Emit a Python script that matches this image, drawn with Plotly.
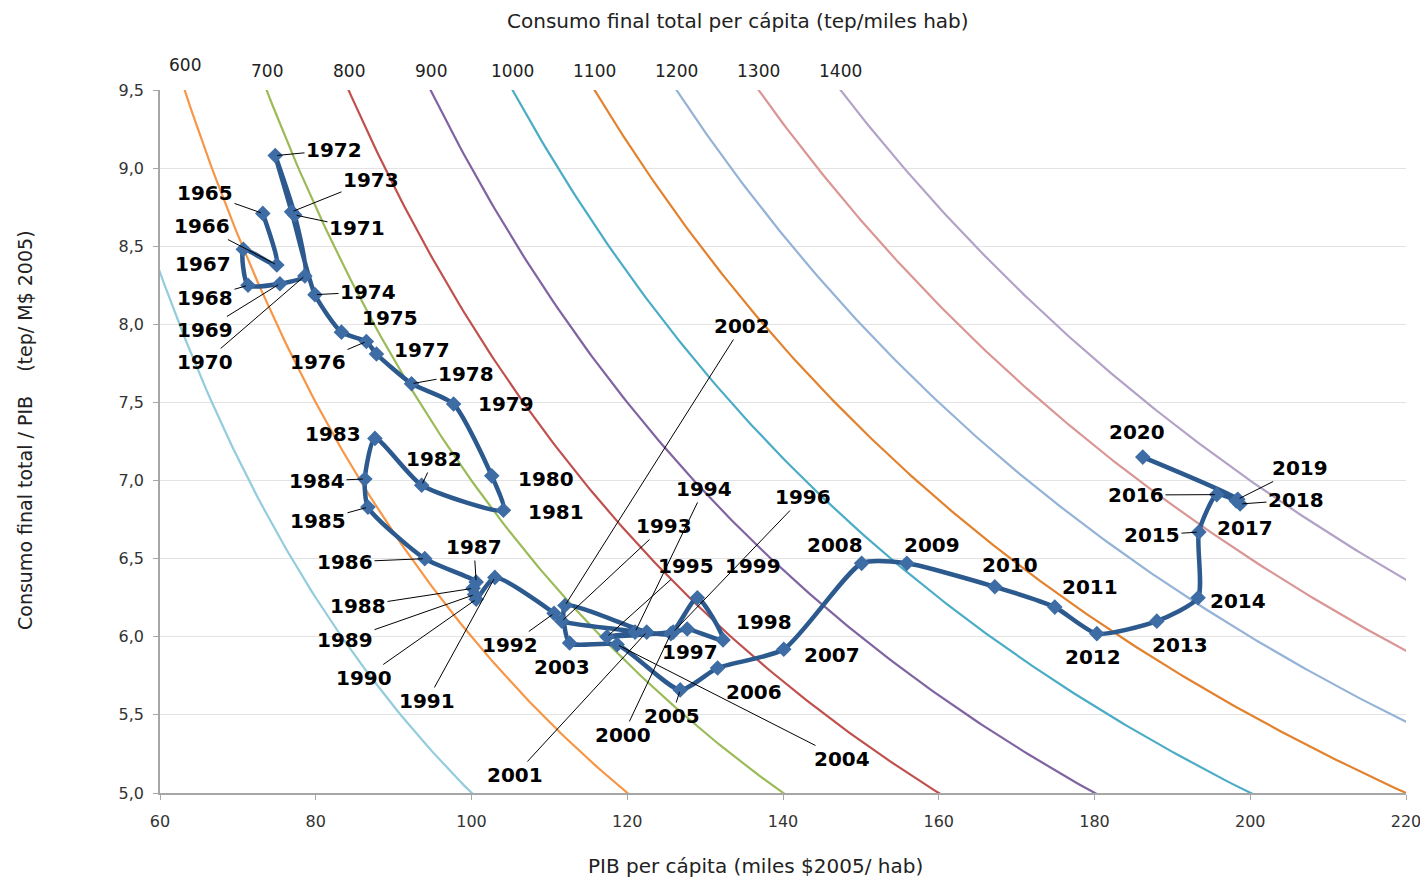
import plotly.graph_objects as go

# ---------------- data ----------------
years = list(range(1965, 2021))
pib_pc = [73.2, 75.0, 70.7, 71.3, 75.4, 78.6, 77.3, 74.8, 76.9, 79.9,
          83.3, 86.5, 87.8, 92.3, 97.7, 102.6, 104.1, 93.6, 87.6, 86.3,
          86.7, 94.0, 100.6, 100.2, 100.4, 100.6, 103.0, 110.6, 111.6, 121.0,
          117.4, 125.9, 127.7, 132.3, 129.0, 125.6, 122.5, 112.0, 112.6, 118.7,
          126.8, 131.6, 140.1, 150.1, 155.9, 167.2, 174.9, 180.3, 188.0, 193.3,
          193.4, 195.7, 198.2, 198.7, 198.4, 186.2]
intensity = [8.71, 8.38, 8.48, 8.25, 8.26, 8.31, 8.70, 9.08, 8.72, 8.19,
             7.95, 7.89, 7.81, 7.62, 7.49, 7.03, 6.81, 6.97, 7.27, 7.01,
             6.83, 6.50, 6.35, 6.31, 6.27, 6.24, 6.38, 6.15, 6.10, 6.03,
             6.00, 6.03, 6.05, 5.98, 6.25, 6.02, 6.03, 6.20, 5.96, 5.95,
             5.66, 5.80, 5.92, 6.47, 6.47, 6.32, 6.19, 6.02, 6.10, 6.25,
             6.67, 6.91, 6.87, 6.85, 6.88, 7.15]

# iso-consumption levels (tep / miles hab): intensity = consumo / PIB
consumo_levels = [500, 600, 700, 800, 900, 1000, 1100, 1200, 1300, 1400]
curve_colors = ["#93CDDD", "#F79646", "#9BBB59", "#C0504D", "#8064A2",
                "#4BACC6", "#E3822E", "#95B3D7", "#D99694", "#B3A2C7"]
pib_grid = [50 + 0.5 * i for i in range(0, 345)]
top_labels = ["600", "700", "800", "900", "1000", "1100", "1200", "1300", "1400"]

x_ticks = [60, 80, 100, 120, 140, 160, 180, 200, 220]
y_ticks = [5.0, 5.5, 6.0, 6.5, 7.0, 7.5, 8.0, 8.5, 9.0, 9.5]

# ---------------- layout helpers ----------------
X0, X1, Y0, Y1 = 60, 220, 5.0, 9.5
PL, PR, PT, PB = 160, 1406, 90, 793   # plot area in page pixels
OFF = 8                                # page body margin
FW, FH = 1412, 871                     # figure size


def to_px(x, y):
    return (PL + (x - X0) * (PR - PL) / (X1 - X0),
            PB - (y - Y0) * (PB - PT) / (Y1 - Y0))


# label centre (pixels) and whether a leader line is drawn
label_pos = {
    1965: (205, 193, True), 1966: (202, 226, True), 1967: (203, 264, False),
    1968: (205, 298, True), 1969: (205, 330, True), 1970: (205, 362, True),
    1971: (357, 228, True), 1972: (334, 150, True), 1973: (371, 180, True),
    1974: (368, 292, True), 1975: (390, 318, False), 1976: (318, 362, True),
    1977: (422, 350, False), 1978: (466, 374, True), 1979: (506, 404, False),
    1980: (546, 479, False), 1981: (556, 512, False), 1982: (434, 459, True),
    1983: (333, 434, False), 1984: (317, 481, True), 1985: (318, 521, True),
    1986: (345, 562, True), 1987: (474, 547, True), 1988: (358, 606, True),
    1989: (345, 640, True), 1990: (364, 678, True), 1991: (427, 701, True),
    1992: (510, 645, True), 1993: (664, 526, True), 1994: (704, 489, True),
    1995: (686, 566, True), 1996: (803, 497, True), 1997: (690, 652, False),
    1998: (764, 622, False), 1999: (753, 566, False), 2000: (623, 735, True),
    2001: (515, 775, True), 2002: (742, 326, True), 2003: (562, 667, False),
    2004: (842, 759, True), 2005: (672, 716, True), 2006: (754, 692, False),
    2007: (832, 655, False), 2008: (835, 545, False), 2009: (932, 545, False),
    2010: (1010, 565, False), 2011: (1090, 587, False), 2012: (1093, 657, False),
    2013: (1180, 645, False), 2014: (1238, 601, False), 2015: (1152, 535, True),
    2016: (1136, 495, True), 2017: (1245, 528, False), 2018: (1296, 500, True),
    2019: (1300, 468, True), 2020: (1137, 432, False),
}

FONT = "DejaVu Sans, Verdana"

fig = go.Figure()

for c, col in zip(consumo_levels, curve_colors):
    xs = [p for p in pib_grid if c / p <= 9.9]
    fig.add_trace(go.Scatter(x=xs, y=[c / p for p in xs], mode="lines",
                             line=dict(color=col, width=2.2),
                             hoverinfo="skip", showlegend=False))

fig.add_trace(go.Scatter(
    x=pib_pc, y=intensity, mode="lines+markers",
    line=dict(color="#2C5A8E", width=4.5, shape="spline", smoothing=0.6),
    marker=dict(symbol="diamond", size=12, color="#3E6DA5"),
    text=[str(yr) for yr in years], showlegend=False))

annotations = []
lab_font = dict(family=FONT, size=20, color="black")
for yr, xv, yv in zip(years, pib_pc, intensity):
    lx, ly, leader = label_pos[yr]
    px, py = to_px(xv, yv)
    txt = "<b>%d</b>" % yr
    if leader:
        annotations.append(dict(x=xv, y=yv, xref="x", yref="y", text=txt,
                                showarrow=True, arrowhead=0, arrowwidth=1,
                                arrowcolor="black", ax=lx - px, ay=ly - py,
                                font=lab_font, standoff=2))
    else:
        annotations.append(dict(x=xv, y=yv, xref="x", yref="y", text=txt,
                                showarrow=False, xshift=lx - px, yshift=py - ly,
                                xanchor="center", yanchor="middle",
                                font=lab_font))


def paper_xy(px, py):
    return (px - PL) / (PR - PL), (PB - py) / (PB - PT)


# top consumption labels
for c, t in zip(consumo_levels[1:], top_labels):
    ypx = 65 if t == "600" else 71
    annotations.append(dict(x=c / 9.5, xref="x", y=paper_xy(0, ypx)[1], yref="paper",
                            text=t, showarrow=False, xanchor="center", yanchor="middle",
                            font=dict(family=FONT, size=17, color="#222")))

tx, ty = paper_xy(738, 21)
annotations.append(dict(x=tx, y=ty, xref="paper", yref="paper", xanchor="center", yanchor="middle",
                        text="Consumo final total per cápita (tep/miles hab)", showarrow=False,
                        font=dict(family=FONT, size=20, color="#222")))
tx, ty = paper_xy(755, 866)
annotations.append(dict(x=tx, y=ty, xref="paper", yref="paper", xanchor="center", yanchor="middle",
                        text="PIB per cápita (miles $2005/ hab)", showarrow=False,
                        font=dict(family=FONT, size=20, color="#222")))
tx, ty = paper_xy(25, 430)
annotations.append(dict(x=tx, y=ty, xref="paper", yref="paper", xanchor="center", yanchor="middle",
                        text="Consumo final total / PIB    (tep/ M$ 2005)", showarrow=False,
                        textangle=-90,
                        font=dict(family=FONT, size=19, color="#222")))

fig.update_layout(
    width=FW, height=FH,
    margin=dict(l=PL - OFF, r=FW + OFF - PR, t=PT - OFF, b=FH + OFF - PB, pad=0,
                autoexpand=False),
    paper_bgcolor="white", plot_bgcolor="white",
    separators=",.",
    annotations=annotations,
    xaxis=dict(range=[X0, X1], tickvals=x_ticks, showgrid=False, zeroline=False,
               showline=True, linecolor="#A6A6A6", linewidth=1.5,
               ticks="outside", tickcolor="#A6A6A6", ticklen=5,
               ticklabeloverflow="allow", automargin=False, ticklabelstandoff=8,
               tickfont=dict(family=FONT, size=16, color="#333")),
    yaxis=dict(range=[Y0, Y1], tickvals=y_ticks, tickformat=".1f",
               showgrid=True, gridcolor="#E3E3E3", gridwidth=1, zeroline=False,
               showline=True, linecolor="#A6A6A6", linewidth=1.5,
               ticks="outside", tickcolor="#A6A6A6", ticklen=5, automargin=False,
               ticklabelstandoff=6,
               tickfont=dict(family=FONT, size=16, color="#333")),
)

fig.write_html("out.html")
